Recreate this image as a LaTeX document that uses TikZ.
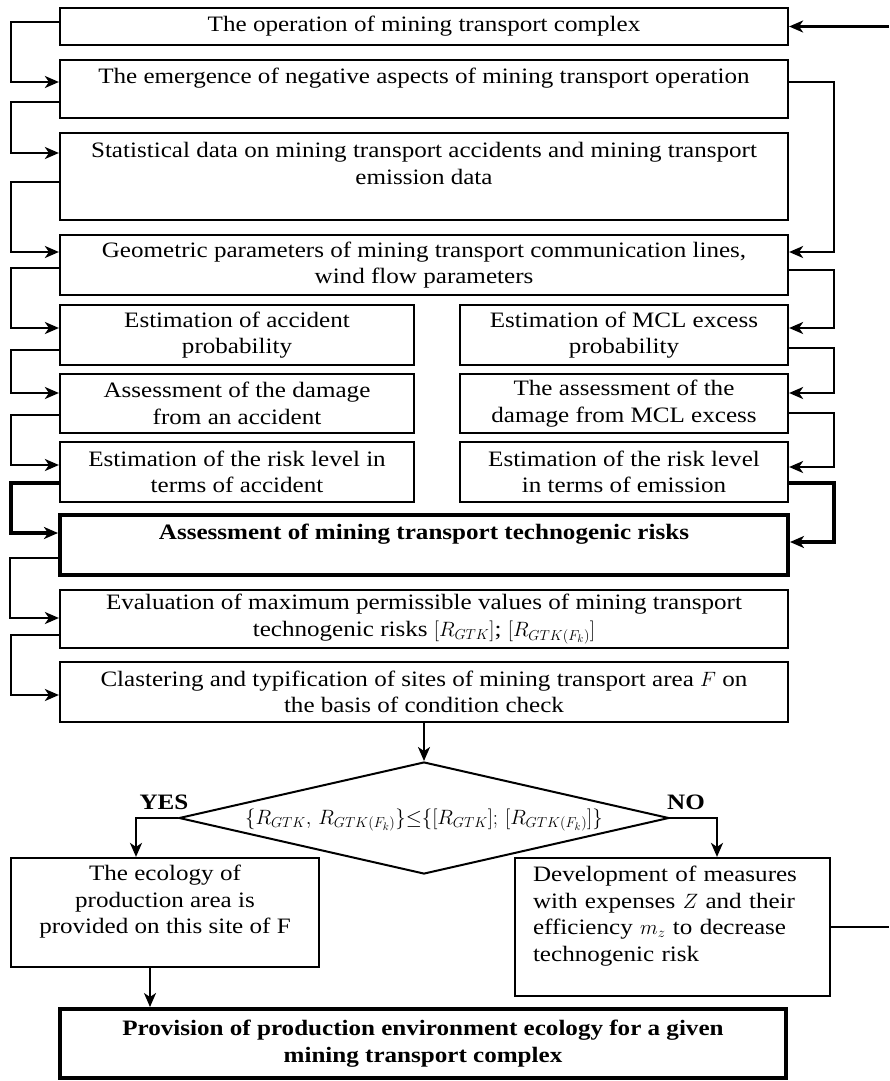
\documentclass[tikz,border=0pt]{standalone}
\usepackage{fontspec}
\setmainfont{Liberation Serif}[FakeStretch=1.14]
\usetikzlibrary{arrows.meta}
\usetikzlibrary{shapes.geometric}

\begin{document}
\begin{tikzpicture}[x=1pt,y=-1pt,
	caja/.style={draw, line width=2.2pt, align=center, inner sep=3pt, font=\fontsize{22}{26.5}\selectfont},
	cajagruesa/.style={caja, line width=4pt, font=\fontsize{22}{26.5}\selectfont\bfseries},
	flecha/.style={line width=2.2pt, -{Stealth[length=14pt,width=12pt,inset=4pt]}},
	flechagruesa/.style={flecha, line width=3.5pt}]
	\useasboundingbox (0,0) rectangle (889,1081);
	\node[caja, minimum width=728pt, minimum height=37pt] (b1) at (424,26.5) {The operation of mining transport complex}; %caja 1
	\node[caja, minimum width=728pt, minimum height=58pt] (b2) at (424,89) {The emergence of negative aspects of mining transport operation\\ \mbox{}};
	\node[caja, minimum width=728pt, minimum height=87pt] (b3) at (424,176.5) {Statistical data on mining transport accidents and mining transport\\ emission data\\ \mbox{}};
	\node[caja, minimum width=728pt, minimum height=60pt] (b4) at (424,265) {Geometric parameters of mining transport communication lines,\\ wind flow parameters};
	\node[caja, minimum width=354pt, minimum height=60pt] (b5l) at (237,335) {Estimation of accident\\ probability}; %columna izquierda
	\node[caja, minimum width=354pt, minimum height=59pt] (b6l) at (237,403.5) {Assessment of the damage\\ from an accident};
	\node[caja, minimum width=354pt, minimum height=60pt] (b7l) at (237,472) {Estimation of the risk level in\\ terms of accident};
	\node[caja, minimum width=328pt, minimum height=60pt] (b5r) at (624,335) {Estimation of MCL excess\\ probability}; %columna derecha
	\node[caja, minimum width=328pt, minimum height=59pt] (b6r) at (624,403.5) {The assessment of the\\ damage from MCL excess};
	\node[caja, minimum width=328pt, minimum height=60pt] (b7r) at (624,472) {Estimation of the risk level\\ in terms of emission};
	\node[cajagruesa, minimum width=728pt, minimum height=60pt] (b8) at (424,545) {Assessment of mining transport technogenic risks\\ \mbox{}};
	\node[caja, minimum width=728pt, minimum height=58pt] (b9) at (424,619) {Evaluation of maximum permissible values of mining transport\\ technogenic risks $[R_{GTK}]$; $[R_{GTK(F_k)}]$};
	\node[caja, minimum width=728pt, minimum height=60pt] (b10) at (424,692) {Clastering and typification of sites of mining transport area $F$ on\\ the basis of condition check};
	\node[draw, diamond, line width=2pt, minimum width=490pt, minimum height=112pt, inner sep=0pt] (dia) at (424,818) {}; %rombo
	\node[font=\fontsize{22}{26.5}\selectfont] (cond) at (424,820) {$\{R_{GTK},\,R_{GTK(F_k)}\}{\leq}\{[R_{GTK}];\,[R_{GTK(F_k)}]\}$};
	\node[font=\fontsize{22}{26.5}\selectfont\bfseries] (yes) at (164,802) {YES};
	\node[font=\fontsize{22}{26.5}\selectfont\bfseries] (no) at (686,802) {NO};
	\node[caja, minimum width=308pt, minimum height=109pt] (eco) at (165,912.5) {The ecology of\\ production area is\\ provided on this site of F\\ \mbox{}};
	\node[caja, align=left, text width=279pt, inner xsep=18pt, minimum height=138pt] (dev) at (672.5,927) {Development of measures\\ with expenses $Z$ and their\\ efficiency $m_z$ to decrease\\ technogenic risk\\ \mbox{}};
	\node[cajagruesa, minimum width=726pt, minimum height=69pt] (fin) at (423,1043.5) {Provision of production environment ecology for a given\\ mining transport complex};
	\coordinate (entrada) at (889,26.5); %extremos sueltos
	\coordinate (salida) at (889,927);
	% conexiones de la izquierda
	\draw[flecha] ([yshift=4.5pt]b1.west) -- ++(-48,0) |- ([yshift=7pt]b2.west);
	\draw[flecha] ([yshift=-13pt]b2.west) -- ++(-48,0) |- ([yshift=23.5pt]b3.west);
	\draw[flecha] ([yshift=-5.5pt]b3.west) -- ++(-48,0) |- ([yshift=13pt]b4.west);
	\draw[flecha] ([yshift=-3pt]b4.west) -- ++(-48,0) |- ([yshift=7pt]b5l.west);
	\draw[flecha] ([yshift=-15pt]b5l.west) -- ++(-48,0) |- ([yshift=10.5pt]b6l.west);
	\draw[flecha] ([yshift=-11.5pt]b6l.west) -- ++(-48,0) |- ([yshift=7pt]b7l.west);
	\draw[flechagruesa] ([yshift=-11pt]b7l.west) -- ++(-48,0) |- ([yshift=12pt]b8.west);
	\draw[flecha] ([yshift=-13pt]b8.west) -- ++(-48,0) |- ([yshift=1pt]b9.west);
	\draw[flecha] ([yshift=-16pt]b9.west) -- ++(-48,0) |- ([yshift=-3pt]b10.west);
	% conexiones de la derecha
	\draw[flecha] (entrada) -- (b1.east);
	\draw[flecha] ([yshift=7pt]b2.east) -- ++(45,0) |- ([yshift=13pt]b4.east);
	\draw[flecha] ([yshift=-5pt]b4.east) -- ++(45,0) |- ([yshift=7pt]b5r.east);
	\draw[flecha] ([yshift=-13pt]b5r.east) -- ++(45,0) |- ([yshift=10.5pt]b6r.east);
	\draw[flecha] ([yshift=-9.5pt]b6r.east) -- ++(45,0) |- ([yshift=5pt]b7r.east);
	\draw[flechagruesa] ([yshift=-11pt]b7r.east) -- ++(45,0) |- ([yshift=3pt]b8.east);
	% parte de abajo
	\draw[flecha] (b10.south) -- (dia.north);
	\draw[flecha] (dia.west) -| ([xshift=-29pt]eco.north);
	\draw[flecha] (dia.east) -| ([xshift=44.5pt]dev.north);
	\draw[flecha] ([xshift=-15pt]eco.south) -- ([xshift=-15pt]eco.south |- fin.north);
	\draw[line width=2.2pt] (dev.east) -- (salida);
\end{tikzpicture}
\end{document}
